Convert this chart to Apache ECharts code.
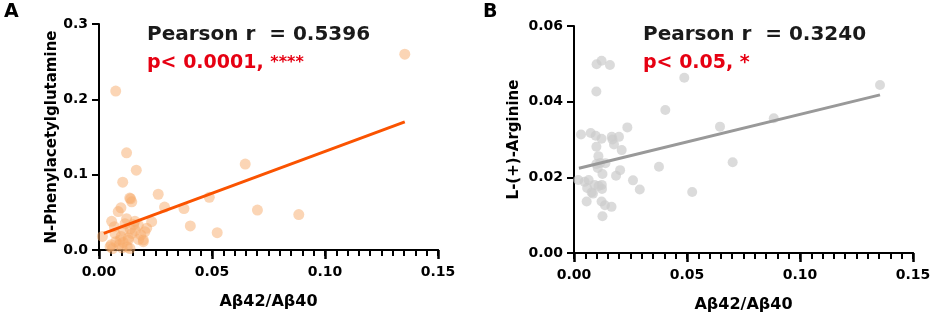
<!DOCTYPE html>
<html>
<head>
<meta charset="utf-8">
<script src="https://cdn.jsdelivr.net/npm/echarts@6/dist/echarts.min.js"></script>
<style>
  html, body { margin: 0; padding: 0; background: #fff; }
  #main { width: 935px; height: 318px; }
</style>
</head>
<body>
<div id="main"></div>
<script>
// Abeta42/Abeta40 vs metabolite
var pointsA = [
  [0.1353, 0.260], [0.0074, 0.211], [0.0122, 0.129], [0.0165, 0.106], [0.0105, 0.090],
  [0.0647, 0.114], [0.0262, 0.074], [0.0136, 0.069], [0.0140, 0.068], [0.0145, 0.064],
  [0.0097, 0.056], [0.0085, 0.051], [0.0290, 0.057], [0.0376, 0.055], [0.0488, 0.070],
  [0.0701, 0.053], [0.0884, 0.047], [0.0404, 0.032], [0.0523, 0.023], [0.0056, 0.038],
  [0.0122, 0.0415], [0.0159, 0.038], [0.0174, 0.033], [0.0211, 0.029], [0.0233, 0.0376],
  [0.0015, 0.018], [0.0049, 0.0044], [0.0093, 0.0133], [0.0130, 0.0133], [0.0137, 0.002],
  [0.0196, 0.0133], [0.0203, 0.0243], [0.0107, 0.0265], [0.0071, 0.022], [0.0196, 0.011],
  [0.0054, 0.007], [0.0060, 0.002], [0.0074, 0.011], [0.0098, 0.018], [0.0090, 0.007],
  [0.0107, 0.010], [0.0125, 0.004], [0.0146, 0.022], [0.0160, 0.026], [0.0153, 0.034],
  [0.0138, 0.028], [0.0068, 0.031], [0.0175, 0.014], [0.0115, 0.035], [0.0185, 0.020],
  [0.0102, 0.003], [0.0130, 0.016]
];
var fitA = [[0.0021, 0.0221], [0.1353, 0.170]];

var pointsB = [
  [0.1354, 0.0444], [0.0488, 0.0463], [0.0404, 0.0378], [0.0236, 0.0332], [0.0646, 0.0334],
  [0.0884, 0.0356], [0.0376, 0.0228], [0.0702, 0.0240], [0.0523, 0.0161], [0.0291, 0.0168],
  [0.0261, 0.0192], [0.0100, 0.0499], [0.0122, 0.0508], [0.0159, 0.0497], [0.0099, 0.0427],
  [0.0031, 0.0313], [0.0074, 0.0317], [0.0096, 0.0310], [0.0122, 0.0302], [0.0167, 0.0307],
  [0.0199, 0.0307], [0.0177, 0.0287], [0.0211, 0.0272], [0.0099, 0.0281], [0.0108, 0.0256],
  [0.0099, 0.0235], [0.0116, 0.0238], [0.0139, 0.0237], [0.0204, 0.0219], [0.0186, 0.0204],
  [0.0126, 0.0209], [0.0019, 0.0193], [0.0047, 0.0188], [0.0065, 0.0193], [0.0091, 0.0180],
  [0.0123, 0.0180], [0.0058, 0.0172], [0.0084, 0.0157], [0.0124, 0.0169], [0.0056, 0.0136],
  [0.0122, 0.0136], [0.0137, 0.0126], [0.0166, 0.0122], [0.0126, 0.0097], [0.0078, 0.0160],
  [0.0109, 0.0177], [0.0105, 0.0225], [0.0170, 0.0300]
];
var fitB = [[0.0022, 0.0224], [0.1354, 0.0418]];

var xTicks = [0, 0.05, 0.10, 0.15];
var xMinorStep = 0.005;
var yTicksA = [0, 0.1, 0.2, 0.3];
var yTicksB = [0, 0.02, 0.04, 0.06];

var font = '"DejaVu Sans", "Liberation Sans", Arial, sans-serif';

function xAxisFor(grid) {
  return {
    gridIndex: grid,
    type: 'value',
    position: 'bottom',
    min: xTicks[0],
    max: xTicks[xTicks.length - 1],
    interval: 0.05,
    name: 'Aβ42/Aβ40',
    nameLocation: 'middle',
    nameGap: 44,
    nameTextStyle: { color: '#000', fontWeight: 'bold', fontSize: 16, fontFamily: font },
    axisLine: { show: true, onZero: false, lineStyle: { color: '#000', width: 2 } },
    axisTick: { show: true, length: 9, lineStyle: { color: '#000', width: 2.5 } },
    splitLine: { show: false },
    axisLabel: {
      margin: 15, color: '#000', fontWeight: 'bold', fontSize: 14, fontFamily: font,
      formatter: function (v) { return v.toFixed(2); }
    }
  };
}

// second bottom axis only for the small ticks between labels
function xMinorFor(grid) {
  return {
    gridIndex: grid,
    type: 'value',
    position: 'bottom',
    min: xTicks[0],
    max: xTicks[xTicks.length - 1],
    interval: xMinorStep,
    axisLine: { show: true, onZero: false, lineStyle: { color: '#000', width: 2 } },
    axisTick: { show: true, length: 6, lineStyle: { color: '#000', width: 2 } },
    axisLabel: { show: false },
    splitLine: { show: false }
  };
}

function yAxisFor(grid, ticks, digits, name, gap) {
  return {
    gridIndex: grid,
    type: 'value',
    min: ticks[0],
    max: ticks[ticks.length - 1],
    interval: ticks[1] - ticks[0],
    name: name,
    nameLocation: 'middle',
    nameGap: gap,
    nameTextStyle: { color: '#000', fontWeight: 'bold', fontSize: 15, fontFamily: font },
    axisLine: { show: true, onZero: false, lineStyle: { color: '#000', width: 2 } },
    axisTick: { show: true, length: 7, lineStyle: { color: '#000', width: 2 } },
    splitLine: { show: false },
    axisLabel: {
      margin: 11, color: '#000', fontWeight: 'bold', fontSize: 14, fontFamily: font,
      formatter: function (v) { return v.toFixed(digits); }
    }
  };
}

var option = {
  backgroundColor: '#fff',
  animation: false,
  grid: [
    { left: 99, top: 24, width: 339, height: 226, containLabel: false, outerBoundsMode: 'none' },
    { left: 574, top: 26, width: 339, height: 227, containLabel: false, outerBoundsMode: 'none' }
  ],
  xAxis: [xAxisFor(0), xAxisFor(1), xMinorFor(0), xMinorFor(1)],
  yAxis: [
    yAxisFor(0, yTicksA, 1, 'N-Phenylacetylglutamine', 39),
    yAxisFor(1, yTicksB, 2, 'L-(+)-Arginine', 52)
  ],
  series: [
    {
      type: 'scatter', xAxisIndex: 0, yAxisIndex: 0, data: pointsA,
      symbolSize: 11, itemStyle: { color: '#f7ac6c', opacity: 0.5 }
    },
    {
      type: 'line', xAxisIndex: 0, yAxisIndex: 0, data: fitA, showSymbol: false, z: 5,
      lineStyle: { color: '#fa5300', width: 3 }
    },
    {
      type: 'scatter', xAxisIndex: 1, yAxisIndex: 1, data: pointsB,
      symbolSize: 10, itemStyle: { color: '#cccccc', opacity: 0.7 }
    },
    {
      type: 'line', xAxisIndex: 1, yAxisIndex: 1, data: fitB, showSymbol: false, z: 5,
      lineStyle: { color: '#999999', width: 3 }
    }
  ],
  graphic: [
    { type: 'text', x: 4, y: 12, style: { text: 'A', fill: '#000', font: 'bold 19px ' + font, verticalAlign: 'middle' } },
    { type: 'text', x: 483, y: 12, style: { text: 'B', fill: '#000', font: 'bold 19px ' + font, verticalAlign: 'middle' } },
    { type: 'text', x: 147, y: 35, style: { text: 'Pearson r  = 0.5396', fill: '#1a1a1a', font: 'bold 20px ' + font, verticalAlign: 'middle' } },
    { type: 'text', x: 643, y: 35, style: { text: 'Pearson r  = 0.3240', fill: '#1a1a1a', font: 'bold 20px ' + font, verticalAlign: 'middle' } },
    {
      type: 'text', x: 147, y: 63,
      style: {
        text: '{a|p< 0.0001, }{b|****}', verticalAlign: 'middle',
        rich: {
          a: { fill: '#e60012', fontWeight: 'bold', fontSize: 19, fontFamily: font },
          b: { fill: '#e60012', fontWeight: 'bold', fontSize: 16, fontFamily: font }
        }
      }
    },
    {
      type: 'text', x: 643, y: 63,
      style: {
        text: '{a|p< 0.05, }{b|*}', verticalAlign: 'middle',
        rich: {
          a: { fill: '#e60012', fontWeight: 'bold', fontSize: 19, fontFamily: font },
          b: { fill: '#e60012', fontWeight: 'bold', fontSize: 19, fontFamily: font }
        }
      }
    }
  ]
};

var chart = echarts.init(document.getElementById('main'), null, { renderer: 'canvas' });
chart.setOption(option);
</script>
</body>
</html>
